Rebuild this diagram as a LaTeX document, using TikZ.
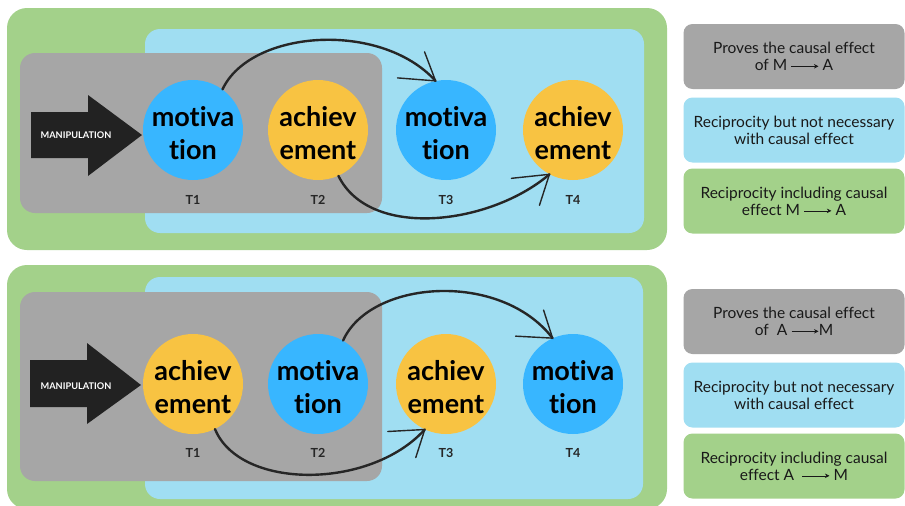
\documentclass[tikz,border=0pt]{standalone}
\usepackage{fontspec}
\setmainfont{Lato}[Ligatures=NoCommon]
\usetikzlibrary{arrows.meta}
\definecolor{cgreen}{HTML}{A3D18A}
\definecolor{cblue}{HTML}{A0DEF2}
\definecolor{cgray}{HTML}{A6A6A6}
\definecolor{cmot}{HTML}{38B6FF}
\definecolor{cach}{HTML}{F8C342}
\definecolor{cdark}{HTML}{222222}
\newcommand{\lgarrow}{\tikz[baseline=-0.55ex]\draw[line width=0.6pt,-{Stealth[length=4.5pt,width=4.5pt]}] (0pt,0pt)--(27pt,0pt);}
\tikzset{
  panelgreen/.style={fill=cgreen, rounded corners=20pt},
  panelblue/.style={fill=cblue, rounded corners=15pt},
  panelgray/.style={fill=cgray, rounded corners=15pt},
  legbox/.style={rounded corners=9pt, minimum width=221pt, minimum height=65pt, align=center, font=\fontsize{15.5}{17}\selectfont, text=black!90},
  bubble/.style={circle, minimum size=100pt, inner sep=0pt, align=center, font=\bfseries\fontsize{27}{33}\selectfont, text=black},
  mot/.style={bubble, fill=cmot},
  ach/.style={bubble, fill=cach},
  btext/.style={align=center, font=\bfseries\fontsize{27}{33}\selectfont, text=black},
  tlabel/.style={font=\bfseries\fontsize{12.5}{14}\selectfont, text=black!85},
  manip/.style={font=\bfseries\fontsize{9.2}{10}\selectfont, text=white},
  sketch/.style={draw=black!85, line width=2.4pt, line cap=round},
  barb/.style={draw=black!85, line width=1.4pt, line cap=round},
}
\begin{document}
\begin{tikzpicture}[x=1pt,y=-1pt]
\useasboundingbox (0,0) rectangle (905,506);
\fill[white] (0,0) rectangle (905,506);
% ---------- top panel ----------
\fill[panelgreen] (7,8) rectangle (667,250);
\fill[panelblue] (145,29) rectangle (644,233);
\fill[panelgray] (20,53) rectangle (382,213);
\fill[cdark] (31,112)--(88,112)--(88,95)--(142,135)--(88,176)--(88,158)--(31,158)--cycle;
\node[manip] (mA) at (76,135) {MANIPULATION};
\node[mot] (a1) at (193,130) {};
\node[ach] (a2) at (318,130) {};
\node[mot] (a3) at (446,130) {};
\node[ach] (a4) at (573,130) {};
\node[btext] at (193,133) {motiva\\tion};
\node[btext] at (318,133) {achiev\\ement};
\node[btext] at (446,133) {motiva\\tion};
\node[btext] at (573,133) {achiev\\ement};
\node[tlabel] (ta1) at (193,200) {T1};
\node[tlabel] (ta2) at (318,200) {T2};
\node[tlabel] (ta3) at (446,200) {T3};
\node[tlabel] (ta4) at (573,200) {T4};
\draw[sketch] (a1.54) .. controls (250,30) and (380,20) .. (a3.102);
\draw[barb] (a3.102) -- ++(-38,-3);
\draw[barb] (a3.102) -- ++(-11,-29);
\draw[sketch] (a2.294) .. controls (370,240) and (490,225) .. (a4.242);
\draw[barb] (a4.242) -- ++(-38,4);
\draw[barb] (a4.242) -- ++(-10,31);
\node[legbox, fill=cgray] (la1) at (794,56.5) {Proves the causal effect\\of M \lgarrow\ A};
\node[legbox, fill=cblue] (la2) at (794,130) {Reciprocity but not necessary\\with causal effect};
\node[legbox, fill=cgreen] (la3) at (794,201) {Reciprocity including causal\\effect M \lgarrow\ A};
% ---------- bottom panel ----------
\fill[panelgreen] (7,265) rectangle (667,509);
\fill[panelblue] (145,277) rectangle (643,499);
\fill[panelgray] (20,292) rectangle (382,481);
\fill[cdark] (30,360)--(87,360)--(87,343)--(141,385)--(87,424)--(87,407)--(30,407)--cycle;
\node[manip] (mB) at (76,386) {MANIPULATION};
\node[ach] (b1) at (193,384) {};
\node[mot] (b2) at (318,384) {};
\node[ach] (b3) at (446,384) {};
\node[mot] (b4) at (573,384) {};
\node[btext] at (193,387) {achiev\\ement};
\node[btext] at (318,387) {motiva\\tion};
\node[btext] at (446,387) {achiev\\ement};
\node[btext] at (573,387) {motiva\\tion};
\node[tlabel] (tb1) at (193,453) {T1};
\node[tlabel] (tb2) at (318,453) {T2};
\node[tlabel] (tb3) at (446,453) {T3};
\node[tlabel] (tb4) at (573,453) {T4};
\draw[sketch] (b2.60) .. controls (370,280) and (500,270) .. (b4.114);
\draw[barb] (b4.114) -- ++(-37,-2);
\draw[barb] (b4.114) -- ++(-9,-28);
\draw[sketch] (b1.296) .. controls (240,490) and (370,490) .. (b3.245);
\draw[barb] (b3.245) -- ++(-37,2);
\draw[barb] (b3.245) -- ++(-9,28);
\node[legbox, fill=cgray] (lb1) at (794,321.5) {Proves the causal effect\\of\ \ A \lgarrow M};
\node[legbox, fill=cblue] (lb2) at (794,395) {Reciprocity but not necessary\\with causal effect};
\node[legbox, fill=cgreen] (lb3) at (794,466) {Reciprocity including causal\\effect A\ \ \lgarrow\ M};
\end{tikzpicture}
\end{document}
